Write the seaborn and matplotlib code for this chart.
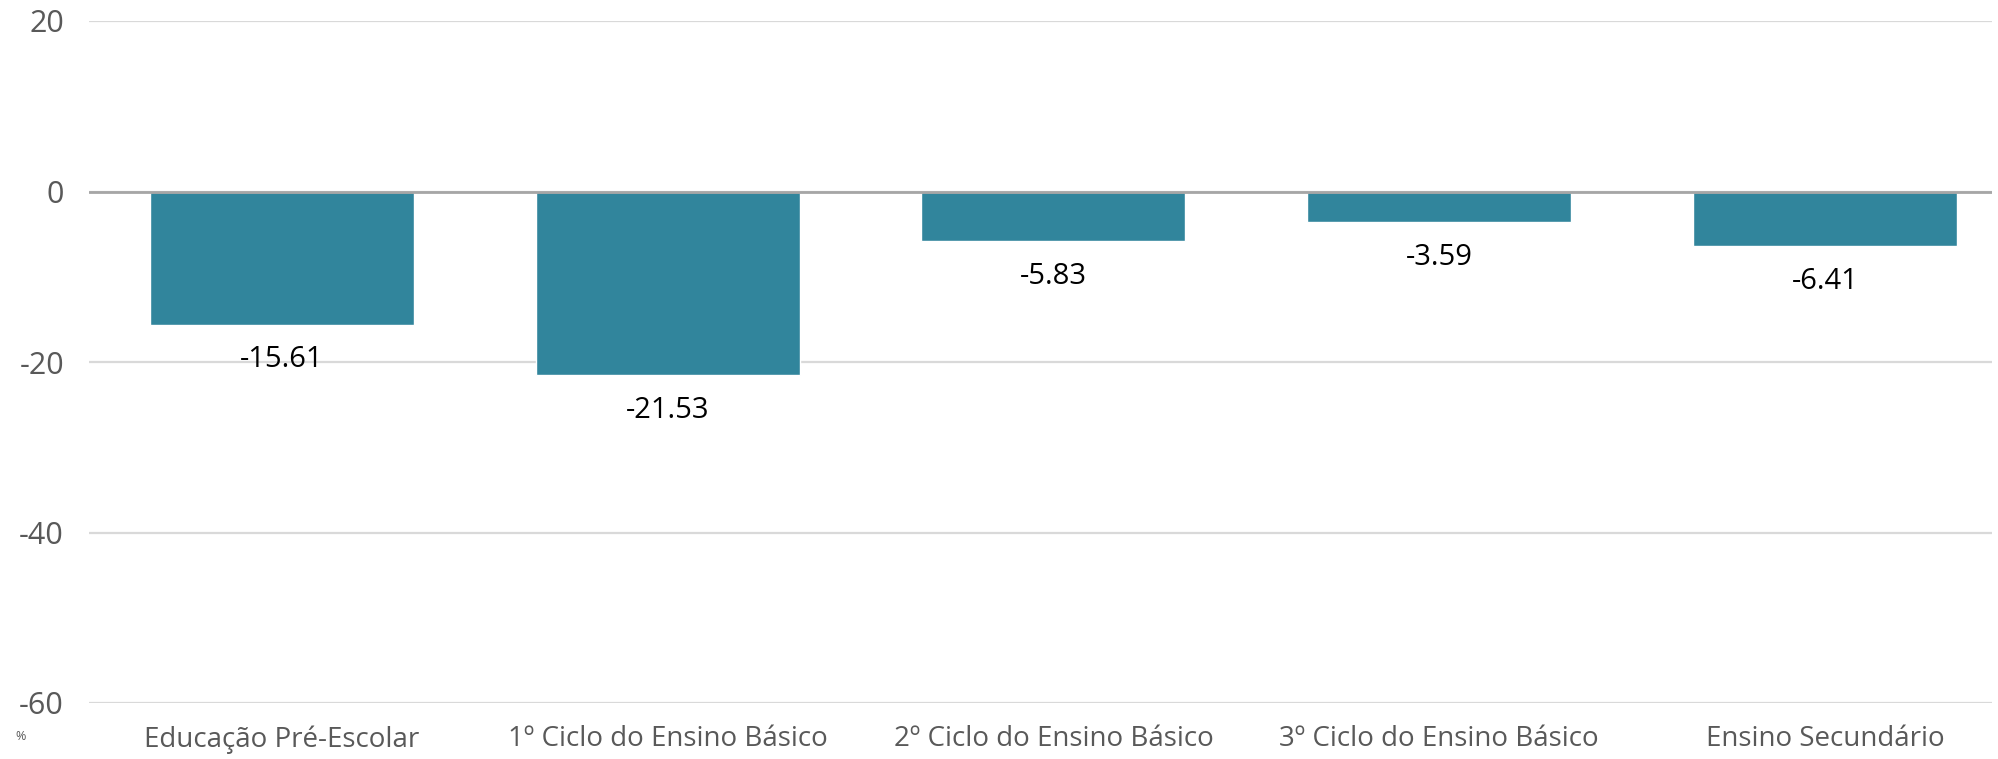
import pandas as pd
import matplotlib
matplotlib.use('Agg')
import matplotlib.pyplot as plt
import seaborn as sns

# categorias e valores (%)
categorias = ['Educação Pré-Escolar', '1º Ciclo do Ensino Básico', '2º Ciclo do Ensino Básico',
              '3º Ciclo do Ensino Básico', 'Ensino Secundário']
valores = [-15.61, -21.53, -5.83, -3.59, -6.41]
yticks = [-60, -40, -20, 0, 20]

df = pd.DataFrame({'Nivel': categorias, 'Valor': valores})

sns.set_theme(style='white')
plt.rcParams['font.family'] = ['Open Sans', 'DejaVu Sans']

W, H = 1999, 759
fig = plt.figure(figsize=(W / 100, H / 100), dpi=100)
ax = fig.add_axes([89 / W, 1 - 703 / H, (1992 - 89) / W, (703 - 21) / H])

sns.barplot(data=df, x='Nivel', y='Valor', color='#31859C', width=0.684,
            saturation=1, ax=ax, zorder=3)

ax.set_ylim(-60, 20)
ax.set_xlim(-0.5, 4.433)
ax.set_yticks(yticks)
ax.set_yticklabels([str(t) for t in yticks], fontsize=22, color='#595959')
ax.tick_params(axis='y', length=0, pad=18)
ax.tick_params(axis='x', length=0, pad=16, labelsize=20, labelcolor='#595959')
ax.set_xlabel('')
ax.set_ylabel('')
ax.grid(axis='y', color='#D9D9D9', linewidth=1.6, zorder=0)
ax.axhline(0, color='#A6A6A6', linewidth=2, zorder=4)
for s in ax.spines.values():
    s.set_visible(False)

for i, v in enumerate(valores):
    ax.annotate(f'{v:.2f}', xy=(i, v), xytext=(0, -35), textcoords='offset pixels',
                ha='center', va='center', fontsize=21, color='black', zorder=5)

fig.text(15 / W, 1 - 737 / H, '%', fontsize=9, color='#595959', ha='left', va='center')

fig.savefig('out.png', dpi=100)
